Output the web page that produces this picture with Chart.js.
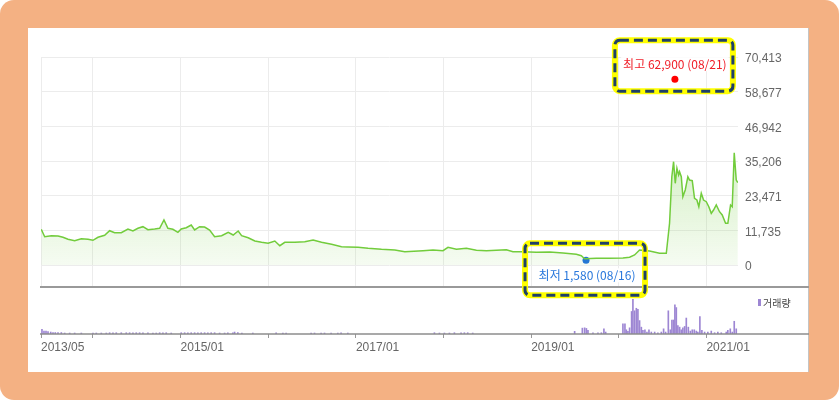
<!DOCTYPE html>
<html lang="ko">
<head>
<meta charset="utf-8">
<title>주가 차트</title>
<script src="https://cdn.jsdelivr.net/npm/chart.js@4.4.1/dist/chart.umd.min.js"></script>
<style>
    body { margin: 0; background: #ffffff; }
    .frame {
        position: absolute; left: 0; top: 0;
        width: 839px; height: 400px;
        background: #f4b183; border-radius: 14px;
    }
    .panel {
        position: absolute; left: 28px; top: 28px;
        width: 781px; height: 344px;
        background: #ffffff;
        border-right: 1px solid #c4c4c4;
        box-sizing: border-box;
    }
    .panel canvas { position: absolute; left: 0; }
    #volumeChart { top: 260px; z-index: 1; }
    #priceChart { top: 0; z-index: 2; }
</style>
</head>
<body>
<div class="frame">
    <div class="panel">
        <canvas id="volumeChart" width="781" height="84"></canvas>
        <canvas id="priceChart" width="781" height="310"></canvas>
    </div>
</div>
<script>
// Price line (x = decimal year, y = price in won)
const priceYears = [
    2013.410, 2013.449, 2013.525, 2013.601, 2013.658, 2013.715, 2013.791, 2013.867, 2013.943, 2014.000,
    2014.057, 2014.133, 2014.190, 2014.247, 2014.323, 2014.399, 2014.456, 2014.513, 2014.570, 2014.627,
    2014.704, 2014.761, 2014.810, 2014.855, 2014.912, 2014.969, 2015.007, 2015.064, 2015.121, 2015.160,
    2015.217, 2015.274, 2015.331, 2015.388, 2015.468, 2015.543, 2015.600, 2015.657, 2015.696, 2015.771,
    2015.847, 2015.924, 2015.999, 2016.075, 2016.132, 2016.189, 2016.303, 2016.417, 2016.512, 2016.608,
    2016.722, 2016.836, 2016.911, 2017.025, 2017.139, 2017.292, 2017.444, 2017.558, 2017.766, 2017.880,
    2017.994, 2018.051, 2018.147, 2018.261, 2018.375, 2018.489, 2018.603, 2018.717, 2018.792, 2018.906,
    2019.059, 2019.211, 2019.363, 2019.515, 2019.572, 2019.610, 2019.743, 2019.895, 2020.047, 2020.123,
    2020.180, 2020.237, 2020.351, 2020.465, 2020.542, 2020.579, 2020.605, 2020.625, 2020.644, 2020.663,
    2020.682, 2020.693, 2020.713, 2020.731, 2020.758, 2020.788, 2020.807, 2020.838, 2020.864, 2020.891,
    2020.913, 2020.941, 2020.967, 2020.998, 2021.027, 2021.055, 2021.081, 2021.112, 2021.149, 2021.180,
    2021.218, 2021.244, 2021.275, 2021.294, 2021.317, 2021.340, 2021.358
];
const priceValues = [
    12080, 9580, 9920, 9820, 9380, 8700, 8230, 8900, 8700, 8360,
    9380, 10050, 11610, 10930, 10930, 12190, 11510, 12420, 12970, 11950,
    12190, 12420, 15230, 12420, 12080, 11070, 12190, 12630, 13540, 11850,
    12970, 12860, 11850, 9580, 9920, 11070, 10160, 11510, 9920, 9240,
    8120, 7680, 7350, 8120, 6530, 7680, 7680, 7890, 8460, 7680,
    7010, 6190, 6090, 5990, 5650, 5310, 5080, 4500, 4840, 5080,
    4840, 5990, 5310, 5650, 4980, 4840, 4980, 5180, 4500, 4500,
    4300, 4400, 4060, 3620, 3150, 2130, 2270, 2270, 2370, 2610,
    3390, 5080, 4740, 3960, 3960, 14120, 29890, 34970, 27660, 32730,
    30470, 31580, 29890, 23120, 25390, 29890, 28770, 28540, 22580, 22000,
    19740, 24270, 22000, 21430, 19740, 17500, 18620, 20310, 18040, 16930,
    14120, 14120, 20310, 19740, 38010, 28770, 27860
];

// Volume bars (x = decimal year, y = volume)
const volumeYears = [
    2013.418, 2013.441, 2013.464, 2013.487, 2013.518, 2013.544, 2013.570, 2013.601, 2013.639, 2013.677,
    2013.734, 2013.791, 2013.867, 2014.000, 2014.038, 2014.095, 2014.152, 2014.190, 2014.228, 2014.266,
    2014.323, 2014.380, 2014.418, 2014.456, 2014.494, 2014.532, 2014.570, 2014.627, 2014.684, 2014.722,
    2014.761, 2014.798, 2014.836, 2014.893, 2015.007, 2015.046, 2015.083, 2015.121, 2015.160, 2015.197,
    2015.235, 2015.274, 2015.311, 2015.349, 2015.388, 2015.445, 2015.502, 2015.539, 2015.596, 2015.616,
    2015.653, 2015.699, 2015.824, 2016.090, 2016.167, 2016.204, 2016.489, 2016.528, 2016.603, 2016.642,
    2016.717, 2016.794, 2016.831, 2016.908, 2017.896, 2017.953, 2018.010, 2018.067, 2018.124, 2018.200,
    2018.238, 2018.276, 2018.333, 2019.496, 2019.584, 2019.610, 2019.630, 2019.648, 2019.705, 2019.762,
    2019.801, 2019.830, 2019.850, 2020.047, 2020.070, 2020.086, 2020.104, 2020.123, 2020.146, 2020.161,
    2020.180, 2020.200, 2020.218, 2020.237, 2020.257, 2020.275, 2020.298, 2020.321, 2020.344, 2020.371,
    2020.409, 2020.446, 2020.485, 2020.511, 2020.534, 2020.565, 2020.588, 2020.606, 2020.625, 2020.640,
    2020.656, 2020.674, 2020.694, 2020.713, 2020.731, 2020.751, 2020.770, 2020.793, 2020.816, 2020.838,
    2020.861, 2020.884, 2020.902, 2020.925, 2020.948, 2020.979, 2021.016, 2021.055, 2021.093, 2021.130,
    2021.169, 2021.226, 2021.244, 2021.272, 2021.295, 2021.317, 2021.340
];
const volumeValues = [
    470, 300, 300, 250, 200, 150, 150, 150, 150, 100,
    100, 100, 100, 100, 100, 100, 100, 130, 130, 130,
    130, 130, 130, 130, 130, 130, 130, 130, 100, 100,
    130, 130, 130, 100, 130, 130, 130, 130, 130, 130,
    130, 130, 130, 130, 130, 100, 100, 130, 130, 200,
    150, 100, 100, 130, 100, 100, 100, 100, 100, 100,
    100, 100, 130, 100, 130, 100, 100, 100, 130, 130,
    130, 130, 100, 270, 600, 630, 570, 370, 130, 130,
    130, 530, 200, 1030, 1030, 430, 270, 630, 2300, 3530,
    2370, 2630, 2530, 1370, 700, 370, 430, 200, 430, 200,
    200, 130, 200, 530, 200, 2370, 430, 1430, 1430, 2970,
    2700, 870, 700, 430, 630, 770, 1630, 700, 300, 430,
    430, 300, 200, 1770, 370, 200, 200, 300, 130, 200,
    130, 200, 370, 530, 200, 1300, 530
];

// Highest / lowest marks
const highMark = { year: 2020.640, value: 62900, label: '최고 62,900 (08/21)' };
const lowMark = { year: 2019.626, value: 1580, label: '최저 1,580 (08/16)' };

// Axis ticks
const xMin = 2013.407;
const xMax = 2021.360;
const xTickValues = [2013.407, 2014, 2015, 2016, 2017, 2018, 2019, 2020, 2021];
const xTickLabels = ['2013/05', '', '2015/01', '', '2017/01', '', '2019/01', '', '2021/01'];
const yTickValues = [0, 11735, 23471, 35206, 46942, 58677, 70413];
const yMin = -7447;
const volumeMax = 4700;

const GRID = '#ececec';
const AXIS_LINE = '#999999';
const TEXT = '#666666';
const NUM_FONT = { family: '"Liberation Sans", Arial, sans-serif', size: 12 };
const KR_FONT = '"Noto Sans CJK KR", sans-serif';

function toPoints(xs, ys) {
    return xs.map((x, i) => ({ x: x, y: ys[i] }));
}

// keep the axes from pushing the plot area around
function noPadding(axis) {
    axis.paddingTop = 0;
    axis.paddingBottom = 0;
    axis.paddingLeft = 0;
    axis.paddingRight = 0;
}

// green fill under the price line
function priceFill(context) {
    const chart = context.chart;
    if (!chart.chartArea) return 'rgba(120,200,70,0.15)';
    const y = chart.scales.y;
    const g = chart.ctx.createLinearGradient(0, y.getPixelForValue(40000), 0, y.getPixelForValue(0));
    g.addColorStop(0, 'rgba(120,205,70,0.32)');
    g.addColorStop(1, 'rgba(120,205,70,0.07)');
    return g;
}

// dashed yellow boxes around the high/low labels
function drawMarkBox(ctx, left, top, right, bottom) {
    ctx.save();
    ctx.beginPath();
    ctx.roundRect(left, top, right - left, bottom - top, 5);
    ctx.strokeStyle = '#ffff00';
    ctx.lineWidth = 6;
    ctx.stroke();
    ctx.setLineDash([9, 5]);
    ctx.strokeStyle = '#1f4068';
    ctx.lineWidth = 3;
    ctx.stroke();
    ctx.restore();
}

function drawMarkLabel(ctx, text, x, y, color) {
    ctx.save();
    ctx.font = '12px ' + KR_FONT;
    const w = ctx.measureText(text).width;
    ctx.fillStyle = '#ffffff';
    ctx.fillRect(x - w / 2 - 2, y - 7, w + 4, 14);
    ctx.fillStyle = color;
    ctx.textAlign = 'center';
    ctx.textBaseline = 'middle';
    ctx.fillText(text, x, y);
    ctx.restore();
}

const markPlugin = {
    id: 'marks',
    afterDraw(chart) {
        const ctx = chart.ctx;
        const a = chart.chartArea;

        // separator between price and volume panes
        ctx.save();
        ctx.strokeStyle = AXIS_LINE;
        ctx.lineWidth = 2;
        ctx.beginPath();
        ctx.moveTo(a.left - 1, a.bottom);
        ctx.lineTo(chart.width, a.bottom);
        ctx.stroke();
        ctx.restore();

        // highlighted high / low labels
        const hi = chart.getDatasetMeta(1).data[0];
        const lo = chart.getDatasetMeta(2).data[0];

        drawMarkBox(ctx, hi.x - 60, hi.y - 39, hi.x + 58, hi.y + 12);
        drawMarkLabel(ctx, highMark.label, hi.x, hi.y - 15, '#f01e28');

        drawMarkBox(ctx, lo.x - 61, lo.y - 17, lo.x + 59, lo.y + 35);
        drawMarkLabel(ctx, lowMark.label, lo.x + 1, lo.y + 15, '#2a78dc');
    }
};

const volumePlugin = {
    id: 'volumeExtras',
    afterDraw(chart) {
        const ctx = chart.ctx;
        const a = chart.chartArea;
        ctx.save();
        // baseline
        ctx.strokeStyle = '#8c8c8c';
        ctx.lineWidth = 1.5;
        ctx.beginPath();
        ctx.moveTo(a.left - 1, a.bottom);
        ctx.lineTo(chart.width, a.bottom);
        ctx.stroke();
        // legend
        ctx.fillStyle = '#9d86d3';
        ctx.fillRect(a.right + 20, 11, 3, 7);
        ctx.fillStyle = '#444444';
        ctx.font = '10px ' + KR_FONT;
        ctx.textBaseline = 'middle';
        ctx.fillText('거래량', a.right + 25, 15);
        ctx.restore();
    }
};

// Price chart
let priceChart = null;

function initPriceChart() {
    const ctx = document.getElementById('priceChart').getContext('2d');
    priceChart = new Chart(ctx, {
        type: 'line',
        data: {
            datasets: [{
                data: toPoints(priceYears, priceValues),
                borderColor: '#72cc3c',
                borderWidth: 1.5,
                pointRadius: 0,
                tension: 0,
                fill: 'origin',
                backgroundColor: priceFill
            }, {
                data: [{ x: highMark.year, y: highMark.value }],
                showLine: false,
                pointRadius: 3.5,
                pointBackgroundColor: '#ff0000',
                pointBorderWidth: 0
            }, {
                data: [{ x: lowMark.year, y: lowMark.value }],
                showLine: false,
                pointRadius: 3.5,
                pointBackgroundColor: '#1e6fe0',
                pointBorderWidth: 0
            }]
        },
        options: {
            responsive: false,
            animation: false,
            layout: { padding: { left: 13, top: 29, right: 0, bottom: 51 } },
            plugins: { legend: { display: false }, tooltip: { enabled: false } },
            scales: {
                x: {
                    type: 'linear',
                    min: xMin,
                    max: xMax,
                    afterBuildTicks: axis => { axis.ticks = xTickValues.map(v => ({ value: v })); },
                    afterFit: axis => { axis.height = 0; noPadding(axis); },
                    ticks: { display: false },
                    grid: { color: GRID, drawTicks: false },
                    border: { display: false }
                },
                y: {
                    position: 'right',
                    min: yMin,
                    max: yTickValues[yTickValues.length - 1],
                    afterBuildTicks: axis => { axis.ticks = yTickValues.map(v => ({ value: v })); },
                    afterFit: axis => { axis.width = 71; noPadding(axis); },
                    ticks: {
                        color: TEXT,
                        font: NUM_FONT,
                        padding: 7,
                        labelOffset: 2,
                        callback: v => v.toLocaleString('en-US')
                    },
                    grid: { color: GRID, drawTicks: false },
                    border: { display: false }
                }
            }
        },
        plugins: [markPlugin]
    });
}

// Volume chart
let volumeChart = null;

function initVolumeChart() {
    const ctx = document.getElementById('volumeChart').getContext('2d');
    volumeChart = new Chart(ctx, {
        type: 'bar',
        data: {
            datasets: [{
                data: toPoints(volumeYears, volumeValues),
                backgroundColor: '#9d86d3',
                barThickness: 1,
                borderWidth: 0
            }]
        },
        options: {
            responsive: false,
            animation: false,
            layout: { padding: { left: 13, top: 0, right: 71, bottom: 0 } },
            plugins: { legend: { display: false }, tooltip: { enabled: false } },
            scales: {
                x: {
                    type: 'linear',
                    offset: false,
                    min: xMin,
                    max: xMax,
                    afterBuildTicks: axis => { axis.ticks = xTickValues.map(v => ({ value: v })); },
                    afterFit: axis => { axis.height = 38; noPadding(axis); },
                    ticks: {
                        align: 'start',
                        autoSkip: false,
                        maxRotation: 0,
                        padding: 2,
                        color: TEXT,
                        font: NUM_FONT,
                        callback: (v, i) => xTickLabels[i]
                    },
                    grid: { offset: false, drawOnChartArea: false, drawTicks: true, tickLength: 4, color: AXIS_LINE },
                    border: { display: false }
                },
                y: {
                    display: false,
                    min: 0,
                    max: volumeMax
                }
            }
        },
        plugins: [volumePlugin]
    });
}

document.addEventListener('DOMContentLoaded', function() {
    initVolumeChart();
    initPriceChart();
});
</script>
</body>
</html>
